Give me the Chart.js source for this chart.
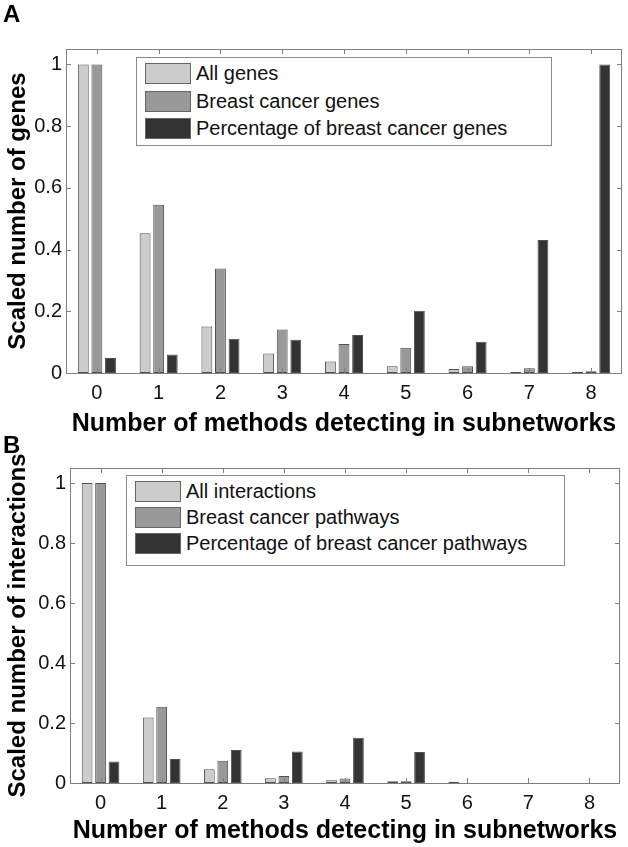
<!DOCTYPE html>
<html>
<head>
<meta charset="utf-8">
<script src="https://cdn.jsdelivr.net/npm/chart.js@4"></script>
<style>
  body { margin: 0; background: #fff; font-family: "Liberation Sans", Arial, sans-serif; }
  #page { position: relative; width: 628px; height: 847px; overflow: hidden; }
  .panel { position: absolute; left: 0; width: 628px; }
  .tag { position: absolute; left: 3px; font: bold 24px "Liberation Sans", Arial, sans-serif; line-height: 24px; }
  .legend { position: absolute; background: #fff; border: 1px solid #8a8a8a; box-sizing: border-box; font-size: 20px; color: #111; }
  .legend .row { position: absolute; left: 8px; height: 21px; white-space: nowrap; }
  .legend .sw { position: absolute; left: 0; top: 0; width: 46px; height: 21px; border: 1px solid #666; box-sizing: border-box; }
  .legend .lbl { position: absolute; left: 51px; top: 0; line-height: 21px; }
</style>
</head>
<body>
<div id="page">
  <div class="panel" style="top:0;height:440px">
    <canvas id="chartA" width="628" height="440"></canvas>
  </div>
  <div class="panel" style="top:440px;height:407px">
    <canvas id="chartB" width="628" height="407"></canvas>
  </div>
  <div class="tag" style="top:2px">A</div>
  <div class="tag" style="top:433px">B</div>
  <div class="legend" id="legendA" style="left:136px;top:57px;width:416px;height:89px"></div>
  <div class="legend" id="legendB" style="left:126px;top:475px;width:439px;height:91px"></div>
</div>
<script>
// shared x categories and y ticks
var categories = ['0', '1', '2', '3', '4', '5', '6', '7', '8'];
var yTicks = [0, 0.2, 0.4, 0.6, 0.8, 1];

// panel A
var allGenes = [1, 0.453, 0.151, 0.063, 0.037, 0.022, 0.013, 0.003, 0.003];
var breastCancerGenes = [1, 0.545, 0.339, 0.141, 0.094, 0.082, 0.022, 0.015, 0.006];
var pctBreastCancerGenes = [0.049, 0.060, 0.111, 0.108, 0.123, 0.202, 0.101, 0.431, 1];

// panel B
var allInteractions = [1, 0.218, 0.046, 0.016, 0.009, 0.006, 0.004, 0, 0];
var breastCancerPathways = [1, 0.254, 0.074, 0.023, 0.015, 0.006, 0, 0, 0];
var pctBreastCancerPathways = [0.072, 0.080, 0.110, 0.105, 0.151, 0.103, 0, 0, 0];

var colors = ['#cccccc', '#999999', '#333333'];
var FONT = '"Liberation Sans", Arial, sans-serif';

// matlab style box with inward ticks
var boxTicks = {
  id: 'boxTicks',
  afterDatasetsDraw: function (chart) {
    var ctx = chart.ctx, a = chart.chartArea, x = chart.scales.x, y = chart.scales.y;
    ctx.save();
    ctx.strokeStyle = '#7f7f7f';
    ctx.lineWidth = 1;
    ctx.strokeRect(Math.round(a.left) + 0.5, Math.round(a.top) + 0.5,
      Math.round(a.right - a.left) - 1, Math.round(a.bottom - a.top));
    ctx.beginPath();
    x.ticks.forEach(function (t, i) {
      var px = Math.round(x.getPixelForTick(i)) + 0.5;
      ctx.moveTo(px, a.bottom); ctx.lineTo(px, a.bottom - 5);
      ctx.moveTo(px, a.top); ctx.lineTo(px, a.top + 5);
    });
    y.ticks.forEach(function (t) {
      var py = Math.round(y.getPixelForValue(t.value)) + 0.5;
      ctx.moveTo(a.left, py); ctx.lineTo(a.left + 5, py);
      ctx.moveTo(a.right, py); ctx.lineTo(a.right - 5, py);
    });
    ctx.stroke();
    ctx.restore();
  }
};

function makeChart(id, labels, series, yTitle, geom) {
  var datasets = series.map(function (s, i) {
    return {
      label: labels[i],
      data: s,
      backgroundColor: colors[i],
      borderColor: '#505050',
      borderWidth: 1,
      borderSkipped: false,
      categoryPercentage: 0.66,
      barPercentage: 0.8
    };
  });
  return new Chart(document.getElementById(id), {
    type: 'bar',
    data: { labels: categories, datasets: datasets },
    plugins: [boxTicks],
    options: {
      responsive: false,
      animation: false,
      devicePixelRatio: 1,
      layout: { padding: { top: geom.top, right: geom.right, left: 0, bottom: 0 } },
      plugins: { legend: { display: false }, tooltip: { enabled: false } },
      scales: {
        x: {
          grid: { display: false, drawTicks: false },
          border: { display: false },
          ticks: { color: '#111', padding: 8, font: { family: FONT, size: 20 } },
          title: { display: true, text: 'Number of methods detecting in subnetworks', color: '#000',
                   padding: { top: 0, bottom: 1 }, font: { family: FONT, size: 25, weight: 'bold' } },
          afterFit: function (s) { s.height = geom.xh; }
        },
        y: {
          min: 0,
          max: 1.05,
          grid: { display: false, drawTicks: false },
          border: { display: false },
          afterBuildTicks: function (s) { s.ticks = yTicks.map(function (v) { return { value: v }; }); },
          ticks: { color: '#111', padding: 4, font: { family: FONT, size: 20 },
                   callback: function (v) { return String(v); } },
          title: { display: true, text: yTitle, color: '#000',
                   padding: { top: 4, bottom: 0 }, font: { family: FONT, size: 24, weight: 'bold' } },
          afterFit: function (s) { s.width = geom.yw; }
        }
      }
    }
  });
}

function fillLegend(el, labels, pitch) {
  labels.forEach(function (l, i) {
    var row = document.createElement('div');
    row.className = 'row';
    row.style.top = (5 + i * pitch) + 'px';
    var sw = document.createElement('div');
    sw.className = 'sw';
    sw.style.background = colors[i];
    var tx = document.createElement('span');
    tx.className = 'lbl';
    tx.textContent = l;
    row.appendChild(sw);
    row.appendChild(tx);
    el.appendChild(row);
  });
}

var labelsA = ['All genes', 'Breast cancer genes', 'Percentage of breast cancer genes'];
var labelsB = ['All interactions', 'Breast cancer pathways', 'Percentage of breast cancer pathways'];

makeChart('chartA', labelsA, [allGenes, breastCancerGenes, pctBreastCancerGenes],
  'Scaled number of genes', { top: 49, right: 6, yw: 66, xh: 67 });
makeChart('chartB', labelsB, [allInteractions, breastCancerPathways, pctBreastCancerPathways],
  'Scaled number of interactions', { top: 28, right: 8, yw: 70, xh: 64 });

fillLegend(document.getElementById('legendA'), labelsA, 27.5);
fillLegend(document.getElementById('legendB'), labelsB, 26);
</script>
</body>
</html>
